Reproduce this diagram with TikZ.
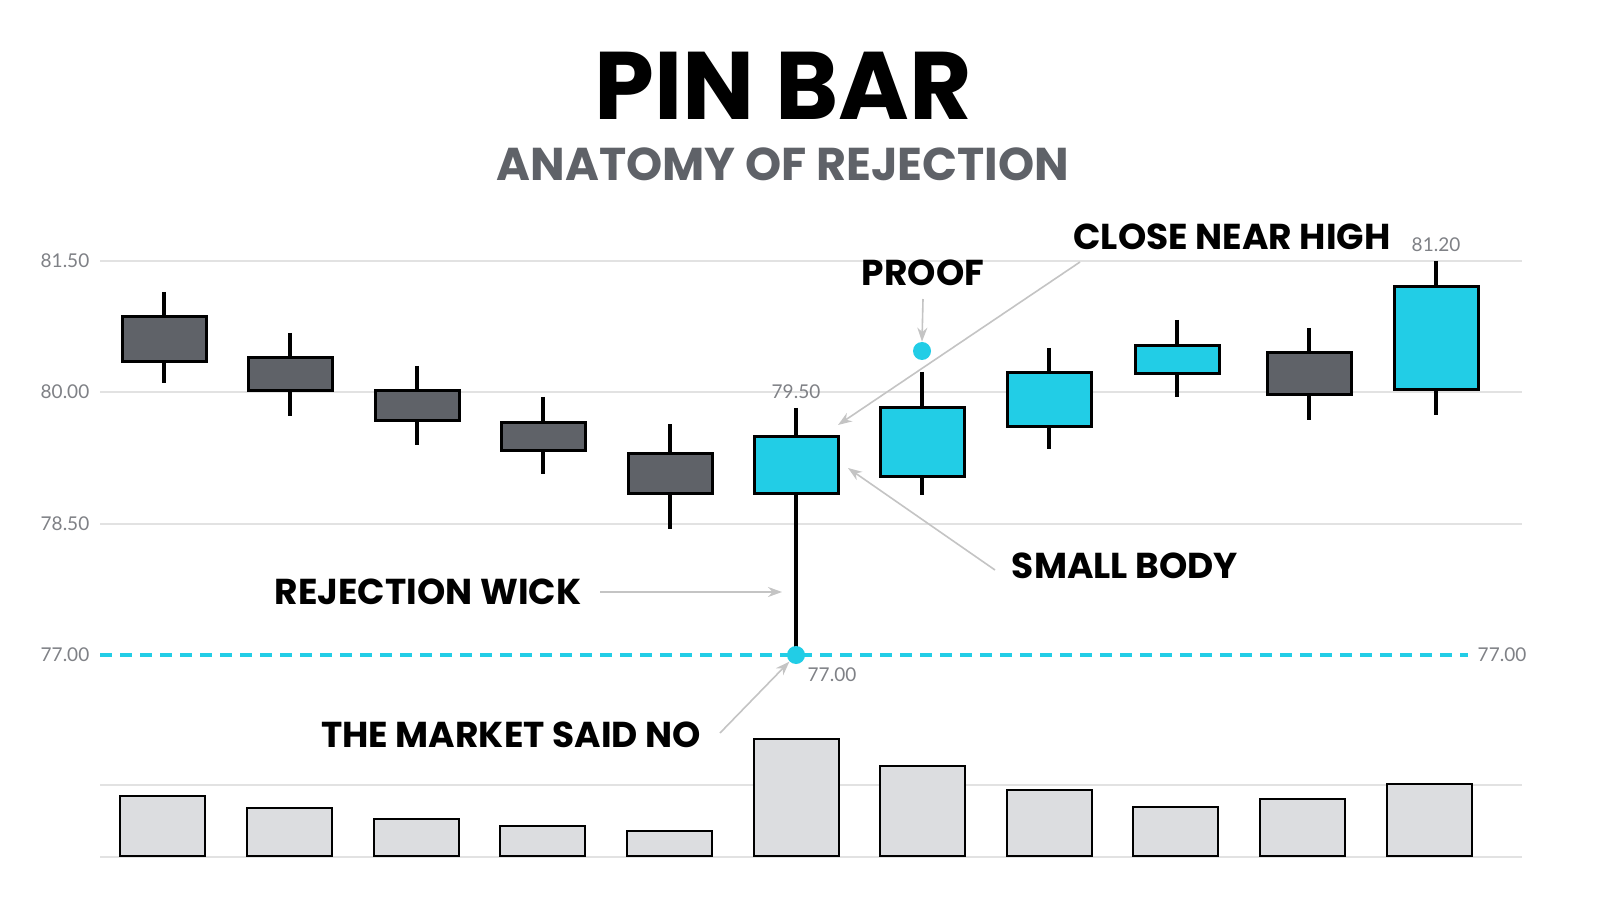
\documentclass[tikz,border=0pt]{standalone}
\usepackage{fontspec}
\setmainfont{Poppins}
\newfontfamily\axisfont{Lato}
\usetikzlibrary{arrows.meta}
\definecolor{cgray}{HTML}{5F6268}
\definecolor{ccyan}{HTML}{22CDE6}
\definecolor{cvol}{HTML}{DCDDE0}
\definecolor{cgrid}{HTML}{E2E2E2}
\definecolor{carrow}{HTML}{C4C4C4}
\tikzset{
 wick/.style={line width=1.7pt,black},
 body/.style={draw=black,line width=1.5pt},
 vol/.style={draw=black,line width=1.1pt,fill=cvol},
 grid line/.style={cgrid,line width=0.6pt},
 axis lbl/.style={font=\axisfont\fontsize{9.5}{9.5}\selectfont,text=cgray!80},
 note/.style={font=\bfseries\fontsize{18}{18}\selectfont,text=black},
 pointer/.style={carrow,line width=0.8pt,-{Stealth[length=7pt,width=5pt]}},
 dot/.style={circle,fill=ccyan,inner sep=0pt,minimum size=9pt}
}
\begin{document}
\begin{tikzpicture}[x=0.5pt,y=-0.5pt]
\path[use as bounding box,fill=white] (0,0) rectangle (1600,914);
\foreach \y/\l in {261/81.50,392/80.00,524/78.50}{
 \draw[grid line] (100,\y) -- (1522,\y);
 \node[axis lbl] (g\y) at (65,\y) {\l};
}
\node[axis lbl] (g655) at (65,655) {77.00};
\draw[grid line] (100,785) -- (1522,785);
\draw[grid line] (100,857) -- (1522,857);
\node[font=\bfseries\fontsize{48}{48}\selectfont] (title) at (783,86) {PIN BAR};
\node[font=\bfseries\fontsize{23}{23}\selectfont,text=cgray] (sub) at (783,164) {ANATOMY OF REJECTION};
\draw[ccyan,line width=1.8pt,dash pattern=on 6pt off 4pt] (100,655) -- (1468,655);
\node[axis lbl] (r77) at (1502,655) {77.00};
\foreach \c/\bt/\bb/\wt/\wb/\col in {
 164/317/362/292/383/cgray, 290/358/391/333/416/cgray, 417/391/420/366/445/cgray,
 543/422/450/397/474/cgray, 670/453/493/424/529/cgray, 796/436/493/408/655/ccyan,
 922/408/476/372/495/ccyan, 1049/373/426/348/449/ccyan, 1177/346/374/320/397/ccyan,
 1309/353/395/328/420/cgray, 1436/287/390/261/415/ccyan}{
 \draw[wick] (\c,\wt) -- (\c,\wb);
 \draw[body,fill=\col] (\c-42,\bt) rectangle (\c+42,\bb);
}
\coordinate (pintop) at (838,425);
\coordinate (pinbody) at (848,468);
\coordinate (pinwick) at (782,592);
\foreach \a/\t in {120/796,247/808,374/819,500/826,627/831,754/739,880/766,1007/790,1133/807,1260/799,1387/784}{
 \draw[vol] (\a,856) rectangle (\a+85,\t);
}
\node[dot] (low) at (796,655) {};
\node[dot] (proofdot) at (922,351) {};
\node[axis lbl] (l77) at (832,675) {77.00};
\node[axis lbl] (l795) at (796,392) {79.50};
\node[axis lbl] (l812) at (1436,245) {81.20};
\node[note] (close) at (1232,237) {CLOSE NEAR HIGH};
\node[note] (proof) at (923,273) {PROOF};
\node[note] (small) at (1125,566) {SMALL BODY};
\node[note] (rej) at (428,592) {REJECTION WICK};
\node[note] (said) at (511,735) {THE MARKET SAID NO};
\draw[pointer] (1080,262) -- (pintop);
\draw[pointer] (proof.south) ++(0,6) -- (proofdot.north);
\draw[pointer] (995,570) -- (pinbody);
\draw[pointer] (rej.east) ++(12,0) -- (pinwick);
\draw[pointer] (720,733) -- (low.south west);
\end{tikzpicture}
\end{document}
